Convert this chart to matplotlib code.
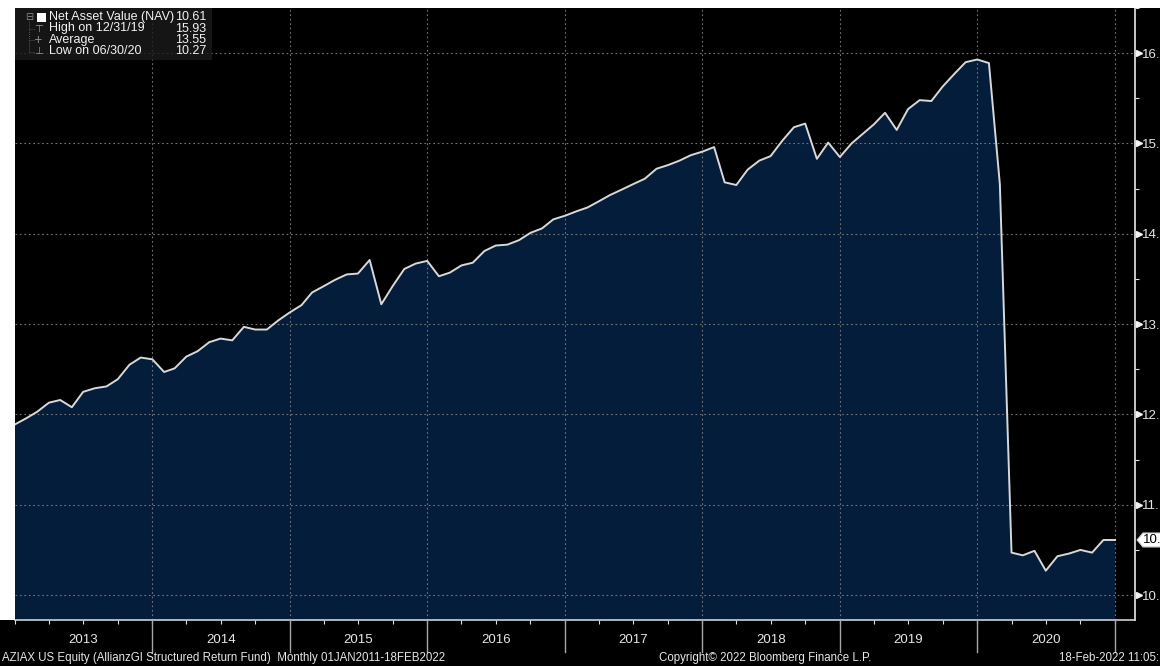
import numpy as np
import pandas as pd
import matplotlib
matplotlib.use('Agg')
import matplotlib.pyplot as plt
import matplotlib.transforms as mtrans
from matplotlib.patches import Rectangle, Polygon

plt.rcParams['font.family'] = ['Liberation Sans', 'DejaVu Sans']

# ---------------- data ----------------
dates = pd.date_range('2012-12-31', periods=97, freq='ME')
nav = [11.89, 11.96, 12.03, 12.13, 12.16, 12.08, 12.25, 12.29, 12.31, 12.39,
       12.55, 12.63, 12.61, 12.47, 12.51, 12.64, 12.70, 12.80, 12.84, 12.82,
       12.97, 12.94, 12.94, 13.04, 13.13, 13.21, 13.35, 13.42, 13.49, 13.55,
       13.56, 13.71, 13.22, 13.42, 13.61, 13.67, 13.70, 13.53, 13.57, 13.65,
       13.68, 13.81, 13.87, 13.88, 13.93, 14.01, 14.06, 14.16, 14.20, 14.25,
       14.29, 14.36, 14.43, 14.49, 14.55, 14.61, 14.72, 14.76, 14.81, 14.87,
       14.91, 14.96, 14.57, 14.54, 14.71, 14.81, 14.86, 15.03, 15.18, 15.22,
       14.83, 15.01, 14.85, 15.00, 15.10, 15.21, 15.34, 15.15, 15.38, 15.48,
       15.47, 15.63, 15.77, 15.90, 15.93, 15.89, 14.55, 10.47, 10.44, 10.49,
       10.27, 10.43, 10.46, 10.50, 10.47, 10.61, 10.61]
year_labels = ['2013', '2014', '2015', '2016', '2017', '2018', '2019', '2020']
y_ticks = [10, 11, 12, 13, 14, 15, 16]
y_tick_labels = ['10.', '11.', '12.', '13.', '14.', '15.', '16.']
y_minor = [10.5, 11.5, 12.5, 13.5, 14.5, 15.5, 16.5]
legend_names = ['Net Asset Value (NAV)', 'High on 12/31/19', 'Average', 'Low on 06/30/20']
legend_values = ['10.61', '15.93', '13.55', '10.27']
last_value = 10.61
last_value_label = '10.'

# ---------------- layout ----------------
W, H = 1160, 666
fig = plt.figure(figsize=(W / 100, H / 100), dpi=100, facecolor='black')


def fx(x):
    return x / W


def fy(y):
    return 1 - y / H


ax = fig.add_axes([fx(15), fy(620), 1120 / W, 612 / H])
ax.set_facecolor('black')

ax.fill_between(dates, nav, 0, color='#031d3b', zorder=1, lw=0)
ax.plot(dates, nav, color='#d8d8d8', lw=1.4, zorder=3)

ax.set_ylim(9.724, 16.486)
ax.set_xlim(dates[0], dates[-1] + pd.Timedelta(days=53))

grid_kw = dict(color='#767676', lw=0.8, linestyle=(0, (1.5, 2.5)), zorder=2)
for v in y_ticks:
    ax.axhline(v, **grid_kw)
boundaries = list(dates[12::12])
for d in boundaries:
    ax.axvline(d, **grid_kw)

# spines
for s in ['left', 'top']:
    ax.spines[s].set_visible(False)
ax.spines['right'].set_color('#e8e8e8')
ax.spines['right'].set_linewidth(1.2)
ax.spines['bottom'].set_color('#d0d0d0')
ax.spines['bottom'].set_linewidth(1.2)

# y axis on right
ax.yaxis.tick_right()
ax.set_yticks(y_ticks)
ax.set_yticklabels(y_tick_labels)
ax.set_yticks(y_minor, minor=True)
ax.tick_params(axis='y', which='major', length=0, pad=4.8, labelcolor='#e6e6e6',
               labelsize=9.5)
ax.tick_params(axis='y', which='minor', length=3, color='#e0e0e0', width=0.8,
               direction='out')
ytr = ax.get_yaxis_transform()
ax.plot([1.0036] * len(y_ticks), y_ticks, ls='none', marker='>', ms=5,
        color='#f0f0f0', transform=ytr, clip_on=False, zorder=5)

# x axis
centers = [pd.Timestamp(f'{y}-07-01') for y in year_labels]
ax.set_xticks(centers)
ax.set_xticklabels(year_labels)
ax.set_xticks(list(dates[::3]), minor=True)
ax.tick_params(axis='x', which='major', length=0, pad=10, labelcolor='#e6e6e6',
               labelsize=9.5)
ax.tick_params(axis='x', which='minor', length=3, color='#e0e0e0', width=0.8)
xtr = mtrans.blended_transform_factory(ax.transData, ax.transAxes)
for d in boundaries:
    ax.plot([d, d], [0, -32 / 612], color='#a8a8a8', lw=1.0, transform=xtr,
            clip_on=False, zorder=5)

# last value box
btr = mtrans.blended_transform_factory(fig.transFigure, ax.transData)
v = last_value
dv = 7 / 90.5
poly = Polygon([(fx(1137), v), (fx(1143), v + dv), (fx(1165), v + dv),
                (fx(1165), v - dv), (fx(1143), v - dv)], closed=True,
               facecolor='white', edgecolor='#cccccc', lw=0.8, transform=btr,
               clip_on=False, zorder=6)
ax.add_artist(poly)
ax.text(fx(1143), v, last_value_label, transform=btr, color='black', fontsize=9.5,
        va='center', ha='left', zorder=7, clip_on=False)

# legend
lb = Rectangle((fx(15), fy(60)), fx(212) - fx(15), fy(8) - fy(60),
               transform=fig.transFigure, facecolor='#1b1b1b', alpha=0.8,
               edgecolor='none', zorder=4)
ax.add_artist(lb)
rows = [17, 28.5, 40, 51.5]
sq = Rectangle((fx(37), fy(21.5)), 9 / W, 9 / H, transform=fig.transFigure,
               facecolor='white', edgecolor='none', zorder=5)
ax.add_artist(sq)
ax.text(fx(25), fy(rows[0]), '⊟', transform=fig.transFigure, color='#8a8a8a',
        fontsize=7, va='center', ha='left', zorder=5, family='DejaVu Sans')
ax.plot([fx(29), fx(29)], [fy(21), fy(51.5)], transform=fig.transFigure,
        color='#6a6a6a', lw=0.6, ls=(0, (1, 1.5)), zorder=5)
symbols = ['⊤', '+', '⊥']
for r, s in zip(rows[1:], symbols):
    ax.plot([fx(29), fx(34)], [fy(r), fy(r)], transform=fig.transFigure,
            color='#6a6a6a', lw=0.6, ls=(0, (1, 1.5)), zorder=5)
    ax.text(fx(34), fy(r), s, transform=fig.transFigure, color='#9a9a9a',
            fontsize=7.5, va='center', ha='left', zorder=5, family='DejaVu Sans')
for r, name, val in zip(rows, legend_names, legend_values):
    ax.text(fx(49), fy(r), name, transform=fig.transFigure, color='#f2f2f2',
            fontsize=9, va='center', ha='left', zorder=5)
    ax.text(fx(206), fy(r), val, transform=fig.transFigure, color='#f2f2f2',
            fontsize=9, va='center', ha='right', zorder=5)

# footer
fig.text(fx(2), fy(658), 'AZIAX US Equity (AllianzGI Structured Return Fund)  Monthly 01JAN2011-18FEB2022',
         color='#e6e6e6', fontsize=8.3, va='center', ha='left')
fig.text(fx(765), fy(658), 'Copyright© 2022 Bloomberg Finance L.P.',
         color='#e6e6e6', fontsize=8.3, va='center', ha='center')
fig.text(fx(1159), fy(658), '18-Feb-2022 11:05:',
         color='#e6e6e6', fontsize=8.3, va='center', ha='right')

# white margins of the screenshot
fig.patches.append(Rectangle((0, fy(8)), 1, 8 / H, transform=fig.transFigure,
                             facecolor='white', edgecolor='none', zorder=10))
fig.patches.append(Rectangle((0, fy(620)), 15 / W, 612 / H, transform=fig.transFigure,
                             facecolor='white', edgecolor='none', zorder=10))

fig.savefig('out.png', dpi=100, facecolor='black')
